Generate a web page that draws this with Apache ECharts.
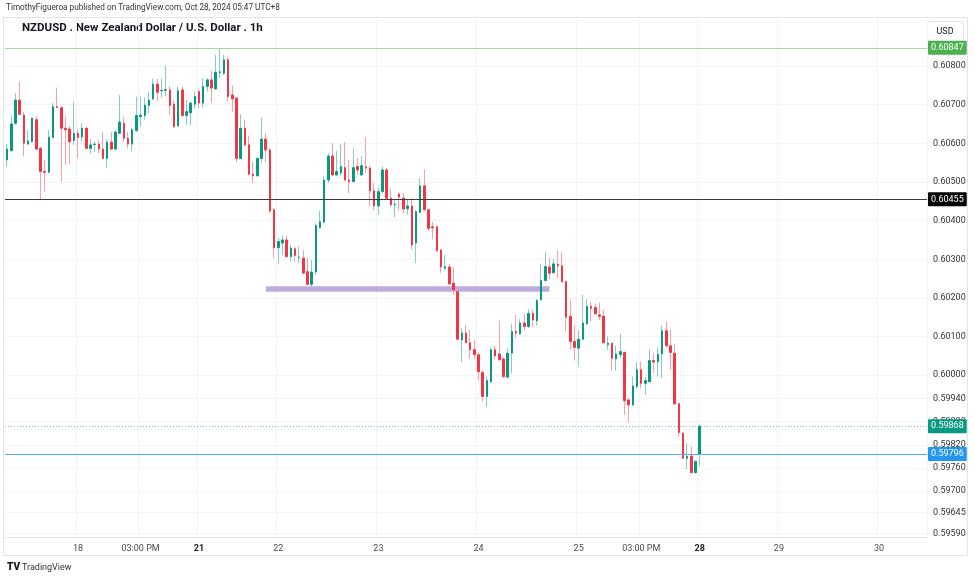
<!DOCTYPE html>
<html>
<head>
<meta charset="utf-8">
<script src="https://cdn.jsdelivr.net/npm/echarts@6/dist/echarts.min.js"></script>
<style>
  html, body { margin: 0; background: #fff; }
  #chart { width: 975px; height: 580px; }
</style>
</head>
<body>
<div id="chart"></div>
<script>
// trading sessions shown, one candle per hour: [day, first hour, last hour]
const sessions = [
  ['10-17', 7, 23], ['10-18', 0, 23], ['10-19', 0, 4],
  ['10-21', 5, 23], ['10-22', 0, 23], ['10-23', 0, 23], ['10-24', 0, 23], ['10-25', 0, 23], ['10-26', 0, 4],
  ['10-28', 5, 23], ['10-29', 0, 23], ['10-30', 0, 11],
]

const xTicks = {
  '10-18 00:00': '18', '10-18 15:00': '03:00 PM', '10-21 05:00': '21', '10-22 00:00': '22',
  '10-23 00:00': '23', '10-24 00:00': '24', '10-25 00:00': '25', '10-25 15:00': '03:00 PM',
  '10-28 05:00': '28', '10-29 00:00': '29', '10-30 00:00': '30',
}
const weekStarts = ['21', '28']

const yTicks = [0.608, 0.607, 0.606, 0.605, 0.604, 0.603, 0.602, 0.601, 0.600,
  0.5994, 0.5988, 0.5982, 0.5976, 0.597, 0.59645, 0.5959]

const open = [
  0.60557,0.60581,0.60652,0.60712,0.60673,0.60598,0.60604,0.60661,0.60587,0.60527,
  0.60525,0.60615,0.60695,0.60692,0.60639,0.60637,0.60607,0.60626,0.60617,0.60639,
  0.60587,0.60597,0.60598,0.60585,0.60561,0.60603,0.60585,0.60626,0.60652,0.60613,
  0.60598,0.60633,0.60669,0.60672,0.60698,0.60715,0.60753,0.60736,0.60737,0.60738,
  0.60701,0.60645,0.60738,0.60672,0.60679,0.60701,0.60734,0.60704,0.60747,0.60764,
  0.60741,0.60783,0.60781,0.60816,0.60725,0.60717,0.60561,0.60639,0.60596,0.60520,
  0.60516,0.60561,0.60611,0.60583,0.60428,0.60330,0.60342,0.60350,0.60307,0.60327,
  0.60304,0.60303,0.60268,0.60235,0.60267,0.60382,0.60396,0.60505,0.60567,0.60518,
  0.60523,0.60537,0.60505,0.60501,0.60540,0.60518,0.60539,0.60536,0.60477,0.60438,
  0.60475,0.60531,0.60458,0.60441,0.60469,0.60458,0.60431,0.60438,0.60342,0.60421,
  0.60490,0.60428,0.60384,0.60384,0.60324,0.60277,0.60280,0.60238,0.60216,0.60091,
  0.60109,0.60084,0.60066,0.60053,0.60007,0.59945,0.59983,0.60066,0.60055,0.60042,
  0.59995,0.60057,0.60113,0.60107,0.60135,0.60126,0.60160,0.60141,0.60195,0.60245,
  0.60280,0.60265,0.60287,0.60283,0.60242,0.60152,0.60087,0.60070,0.60093,0.60133,
  0.60178,0.60175,0.60156,0.60153,0.60079,0.60083,0.60042,0.60053,0.60059,0.59936,
  0.59923,0.59971,0.60014,0.59979,0.59983,0.60038,0.60035,0.60055,0.60115,0.60076,
  0.60057,0.59926,0.59850,0.59785,0.59791,0.59748,0.59796,
]
const high = [
  0.60598,0.60672,0.60730,0.60760,0.60682,0.60635,0.60666,0.60669,0.60591,0.60557,
  0.60635,0.60704,0.60744,0.60695,0.60669,0.60645,0.60708,0.60635,0.60652,0.60643,
  0.60611,0.60604,0.60609,0.60629,0.60611,0.60629,0.60635,0.60725,0.60669,0.60629,
  0.60639,0.60721,0.60721,0.60718,0.60734,0.60767,0.60767,0.60768,0.60801,0.60747,
  0.60712,0.60747,0.60747,0.60712,0.60708,0.60734,0.60738,0.60768,0.60768,0.60787,
  0.60829,0.60847,0.60829,0.60824,0.60749,0.60721,0.60675,0.60661,0.60620,0.60553,
  0.60563,0.60666,0.60626,0.60587,0.60432,0.60355,0.60361,0.60361,0.60337,0.60333,
  0.60333,0.60324,0.60303,0.60298,0.60393,0.60425,0.60514,0.60574,0.60600,0.60580,
  0.60598,0.60603,0.60557,0.60587,0.60562,0.60567,0.60616,0.60542,0.60497,0.60484,
  0.60540,0.60536,0.60484,0.60455,0.60472,0.60472,0.60455,0.60458,0.60428,0.60510,
  0.60533,0.60432,0.60397,0.60386,0.60326,0.60311,0.60288,0.60280,0.60228,0.60122,
  0.60130,0.60117,0.60091,0.60059,0.60014,0.59996,0.60070,0.60076,0.60141,0.60047,
  0.60070,0.60133,0.60156,0.60145,0.60159,0.60171,0.60169,0.60197,0.60288,0.60320,
  0.60303,0.60300,0.60324,0.60317,0.60245,0.60195,0.60130,0.60117,0.60208,0.60197,
  0.60190,0.60186,0.60188,0.60169,0.60100,0.60084,0.60076,0.60107,0.60061,0.59941,
  0.59996,0.60035,0.60035,0.59996,0.60067,0.60057,0.60072,0.60128,0.60139,0.60119,
  0.60081,0.59928,0.59852,0.59824,0.59815,0.59779,0.59872,
]
const low = [
  0.60540,0.60579,0.60648,0.60673,0.60566,0.60596,0.60603,0.60583,0.60455,0.60475,
  0.60523,0.60613,0.60691,0.60501,0.60544,0.60546,0.60596,0.60561,0.60604,0.60585,
  0.60574,0.60577,0.60574,0.60560,0.60537,0.60583,0.60583,0.60624,0.60603,0.60587,
  0.60579,0.60630,0.60643,0.60661,0.60678,0.60712,0.60708,0.60718,0.60721,0.60673,
  0.60639,0.60643,0.60669,0.60648,0.60646,0.60689,0.60691,0.60691,0.60734,0.60704,
  0.60738,0.60768,0.60777,0.60708,0.60682,0.60551,0.60560,0.60591,0.60518,0.60497,
  0.60514,0.60549,0.60551,0.60419,0.60303,0.60287,0.60311,0.60303,0.60294,0.60294,
  0.60290,0.60261,0.60234,0.60229,0.60261,0.60379,0.60393,0.60497,0.60516,0.60516,
  0.60516,0.60503,0.60471,0.60499,0.60518,0.60516,0.60523,0.60436,0.60428,0.60415,
  0.60471,0.60455,0.60436,0.60409,0.60426,0.60419,0.60415,0.60326,0.60290,0.60419,
  0.60426,0.60374,0.60352,0.60320,0.60265,0.60272,0.60234,0.60208,0.60091,0.60035,
  0.60083,0.60042,0.60042,0.59988,0.59932,0.59917,0.59981,0.60042,0.60038,0.59995,
  0.59992,0.60005,0.60096,0.60104,0.60115,0.60122,0.60124,0.60128,0.60193,0.60242,
  0.60248,0.60264,0.60251,0.60240,0.60113,0.60066,0.60038,0.60021,0.60091,0.60130,
  0.60139,0.60156,0.60143,0.60083,0.60066,0.60012,0.60012,0.60044,0.59897,0.59877,
  0.59921,0.59966,0.59966,0.59949,0.59981,0.60005,0.59996,0.59992,0.60072,0.60014,
  0.59923,0.59841,0.59783,0.59757,0.59747,0.59745,0.59764,
]
const close = [
  0.60585,0.60650,0.60712,0.60675,0.60600,0.60606,0.60665,0.60585,0.60527,0.60525,
  0.60616,0.60695,0.60693,0.60639,0.60635,0.60604,0.60626,0.60615,0.60639,0.60587,
  0.60596,0.60598,0.60585,0.60561,0.60603,0.60585,0.60629,0.60655,0.60613,0.60598,
  0.60635,0.60672,0.60673,0.60699,0.60712,0.60753,0.60732,0.60737,0.60739,0.60698,
  0.60643,0.60736,0.60672,0.60682,0.60704,0.60721,0.60704,0.60747,0.60764,0.60743,
  0.60784,0.60785,0.60816,0.60721,0.60715,0.60561,0.60639,0.60596,0.60520,0.60516,
  0.60561,0.60611,0.60583,0.60425,0.60330,0.60346,0.60350,0.60307,0.60329,0.60310,
  0.60305,0.60264,0.60235,0.60267,0.60387,0.60397,0.60505,0.60567,0.60518,0.60527,
  0.60540,0.60505,0.60501,0.60537,0.60531,0.60542,0.60536,0.60477,0.60438,0.60475,
  0.60531,0.60458,0.60441,0.60443,0.60461,0.60430,0.60438,0.60337,0.60423,0.60490,
  0.60428,0.60380,0.60381,0.60322,0.60280,0.60281,0.60236,0.60221,0.60093,0.60109,
  0.60084,0.60066,0.60053,0.60009,0.59945,0.59986,0.60066,0.60050,0.60040,0.59996,
  0.60057,0.60113,0.60109,0.60135,0.60126,0.60160,0.60143,0.60193,0.60245,0.60281,
  0.60264,0.60288,0.60283,0.60242,0.60150,0.60087,0.60072,0.60093,0.60135,0.60178,
  0.60173,0.60159,0.60152,0.60084,0.60083,0.60044,0.60055,0.60061,0.59934,0.59923,
  0.59972,0.60014,0.59979,0.59986,0.60038,0.60034,0.60054,0.60115,0.60076,0.60059,
  0.59926,0.59852,0.59785,0.59790,0.59748,0.59777,0.59868,
]

// drawn price levels: week high, friday low, last price, open of last bar
const levels = [0.60847, 0.60455, 0.59868, 0.59796]
// purple support band
const zoneFrom = '10-21 21:00'
const zoneTo = '10-24 17:00'
const zoneRange = [0.60216, 0.60230]

const categories = []
for (const [day, from, to] of sessions) {
  for (let h = from; h <= to; h++) categories.push(day + ' ' + String(h).padStart(2, '0') + ':00')
}

const wicks = open.map((o, i) => [o, close[i], low[i], high[i]])
const bodies = open.map((o, i) => [o, close[i], Math.min(o, close[i]), Math.max(o, close[i])])

const FONT = 'Roboto'
const UP = '#089981'
const DOWN = '#f23645'

const chart = echarts.init(document.getElementById('chart'))

const isTick = (i, v) => v in xTicks

const levelLine = (value, line, bg) => ({
  yAxis: value,
  lineStyle: line,
  label: { backgroundColor: bg },
})

chart.setOption({
  animation: false,
  textStyle: { fontFamily: FONT },
  grid: { left: 5, right: 48, top: 18, bottom: 43 },
  xAxis: {
    type: 'category',
    data: categories,
    boundaryGap: true,
    axisLine: { show: true, lineStyle: { color: '#e0e3eb' } },
    axisTick: { show: false },
    axisLabel: {
      interval: isTick,
      formatter: v => {
        const t = xTicks[v] || ''
        return weekStarts.includes(t) ? '{b|' + t + '}' : t
      },
      color: '#4a4a4a', fontSize: 9, margin: 7,
      rich: { b: { fontWeight: 'bold', color: '#222', fontSize: 9 } },
    },
    splitLine: { show: true, interval: isTick, lineStyle: { color: '#f2f3f5' } },
  },
  yAxis: {
    type: 'value',
    position: 'right',
    min: 0.595814,
    max: 0.609242,
    axisLine: { show: false },
    axisTick: { show: false, customValues: yTicks },
    axisLabel: {
      customValues: yTicks,
      formatter: v => v.toFixed(5),
      color: '#333', fontSize: 9, margin: 6,
    },
    splitLine: { show: true, lineStyle: { color: '#f2f3f5' } },
  },
  series: [
    {
      name: 'wicks', type: 'candlestick', data: wicks, barWidth: 1, z: 2,
      itemStyle: { color: '#86cec2', color0: '#f8a0a8', borderColor: '#86cec2', borderColor0: '#f8a0a8', borderWidth: 1 },
    },
    {
      name: 'bodies', type: 'candlestick', data: bodies, barWidth: 2, z: 3,
      itemStyle: { color: UP, color0: DOWN, borderColor: UP, borderColor0: DOWN, borderWidth: 1 },
      markLine: {
        symbol: 'none', silent: true, precision: 5,
        label: {
          position: 'end', distance: 1, formatter: p => Number(p.value).toFixed(5),
          color: '#fff', fontSize: 9, padding: [3, 3, 2, 3], borderRadius: 1,
        },
        data: [
          levelLine(levels[0], { color: '#a5d6a7', type: 'solid', width: 1 }, '#4caf50'),
          levelLine(levels[1], { color: '#3a3a3a', type: 'solid', width: 1 }, '#000'),
          levelLine(levels[2], { color: 'rgba(8,153,129,0.55)', type: [1, 2], width: 1 }, UP),
          levelLine(levels[3], { color: '#5aa9f0', type: 'solid', width: 1 }, '#2196f3'),
        ],
      },
      markArea: {
        silent: true,
        itemStyle: { color: 'rgba(126,87,194,0.5)' },
        data: [[{ coord: [zoneFrom, zoneRange[1]] }, { coord: [zoneTo, zoneRange[0]] }]],
      },
    },
  ],
  graphic: [
    { type: 'rect', z: -1, silent: true, shape: { x: 3.5, y: 17.5, width: 964, height: 538 }, style: { fill: 'none', stroke: '#e0e3eb' } },
    { type: 'text', left: 6, top: 4, style: { text: 'TimothyFigueroa published on TradingView.com, Oct 28, 2024 05:47 UTC+8', fill: '#333', fontSize: 8.2, fontFamily: FONT } },
    { type: 'text', left: 22, top: 22, style: { text: 'NZDUSD . New Zealand Dollar / U.S. Dollar . 1h', fill: '#131722', fontSize: 11.5, fontWeight: 'bold', fontFamily: FONT } },
    { type: 'rect', shape: { x: 927.5, y: 21.5, width: 36, height: 20, r: 3 }, style: { fill: '#fff', stroke: '#e0e3eb' } },
    { type: 'text', x: 945, y: 31.5, style: { text: 'USD', fill: '#131722', fontSize: 9, fontFamily: FONT, align: 'center', verticalAlign: 'middle' } },
    { type: 'text', left: 7, top: 562, style: { text: 'TV', fill: '#131722', fontSize: 10, fontWeight: 900, fontFamily: FONT } },
    { type: 'text', left: 22, top: 563, style: { text: 'TradingView', fill: '#333', fontSize: 9, fontFamily: FONT } },
  ],
})
</script>
</body>
</html>
